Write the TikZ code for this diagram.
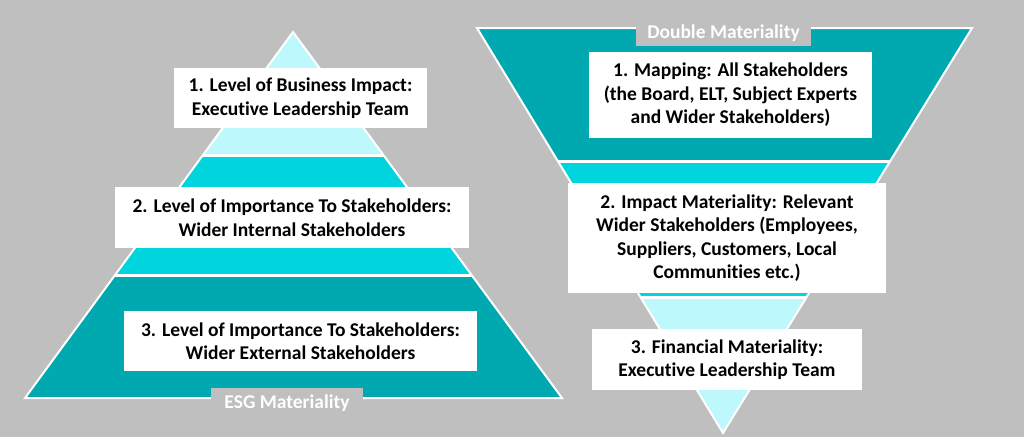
\documentclass[tikz,border=0pt]{standalone}
\usepackage{fontspec}
\setmainfont[Ligatures=CommonOff]{Carlito}
\definecolor{bggrey}{HTML}{BFBFBF}
\definecolor{tealdark}{HTML}{00A8AF}
\definecolor{tealmid}{HTML}{00D4DC}
\definecolor{teallight}{HTML}{BDF9FC}
\tikzset{
  lvlbox/.style={fill=white, inner sep=0pt, align=center, font=\fontsize{19.5}{23.5}\selectfont\bfseries},
  tagbox/.style={fill=bggrey, text=white, inner sep=0pt, font=\fontsize{19.5}{23.5}\selectfont\bfseries},
  sep/.style={white, line width=3pt}
}
\begin{document}
\begin{tikzpicture}[x=1pt,y=-1pt]
  \useasboundingbox[fill=bggrey] (0,0) rectangle (1024,437);

  % ESG pyramid
  \begin{scope}
    \clip (293,32) -- (562,398) -- (25,398) -- cycle;
    \fill[teallight] (0,0) rectangle (600,155.5);
    \fill[tealmid] (0,155.5) rectangle (600,275.5);
    \fill[tealdark] (0,275.5) rectangle (600,400);
    \draw[sep] (0,155.5) -- (600,155.5);
    \draw[sep] (0,275.5) -- (600,275.5);
  \end{scope}
  \draw[white, line width=2pt, line join=miter] (293,32) -- (562,398) -- (25,398) -- cycle;

  % double materiality funnel
  \begin{scope}
    \clip (477,28) -- (972,28) -- (723,433) -- cycle;
    \fill[tealdark] (470,0) rectangle (1000,161.5);
    \fill[tealmid] (470,161.5) rectangle (1000,297.5);
    \fill[teallight] (470,297.5) rectangle (1000,440);
    \draw[sep] (470,161.5) -- (1000,161.5);
    \draw[sep] (470,297.5) -- (1000,297.5);
  \end{scope}
  \draw[white, line width=2pt, line join=miter] (477,28) -- (972,28) -- (723,433) -- cycle;

  \node[lvlbox, minimum width=253, minimum height=60] (esg1) at (300.5,98)
    {1. Level of Business Impact:\\Executive Leadership Team};
  \node[lvlbox, minimum width=354, minimum height=61] (esg2) at (292,217.5)
    {2. Level of Importance To Stakeholders:\\Wider Internal Stakeholders};
  \node[lvlbox, minimum width=353, minimum height=60] (esg3) at (300.5,341)
    {3. Level of Importance To Stakeholders:\\Wider External Stakeholders};
  \node[tagbox, minimum width=152, minimum height=30] (esgtag) at (287,403) {ESG Materiality};

  \node[lvlbox, minimum width=283, minimum height=86] (dm1) at (730.5,95)
    {1. Mapping: All Stakeholders\\(the Board, ELT, Subject Experts\\and Wider Stakeholders)};
  \node[lvlbox, minimum width=318, minimum height=110] (dm2) at (727,238)
    {2. Impact Materiality: Relevant\\Wider Stakeholders (Employees,\\Suppliers, Customers, Local\\Communities etc.)};
  \node[lvlbox, minimum width=270, minimum height=61] (dm3) at (727,359.5)
    {3. Financial Materiality:\\Executive Leadership Team};
  \node[tagbox, minimum width=175, minimum height=26] (dmtag) at (723.5,33) {Double Materiality};
\end{tikzpicture}
\end{document}
